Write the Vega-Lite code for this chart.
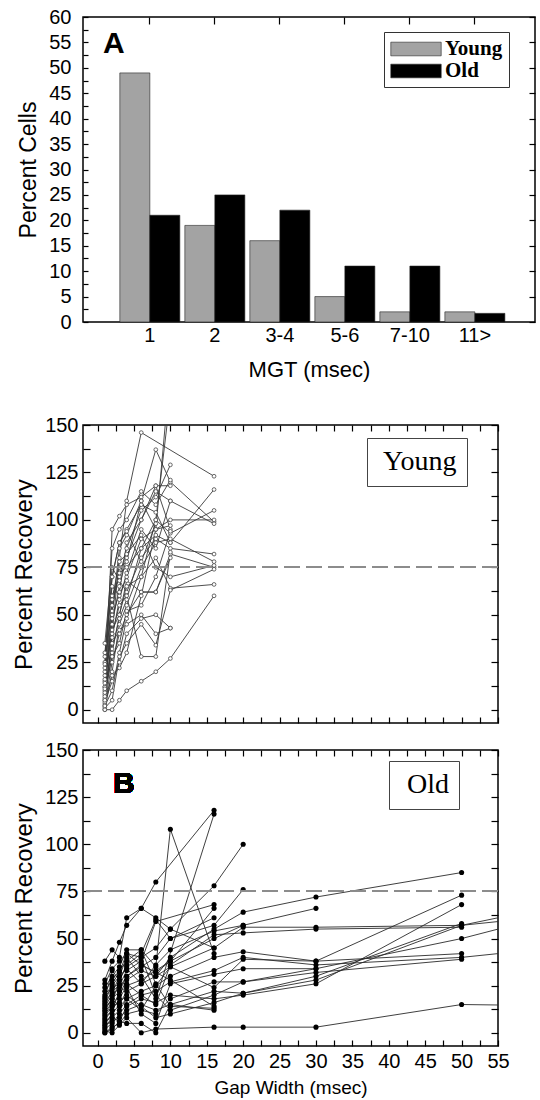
{
  "$schema": "https://vega.github.io/schema/vega-lite/v6.json",
  "padding": {"left": 11, "top": 6, "right": 0, "bottom": 0},
  "background": "white",
  "config": {
    "font": "Liberation Sans",
    "view": {"stroke": "black", "strokeWidth": 1.5},
    "axis": {"domain": false, "grid": false, "labelFont": "Liberation Sans", "titleFont": "Liberation Sans", "labelColor": "black", "titleColor": "black", "tickColor": "black", "tickWidth": 1.2, "titleFontWeight": "normal", "labelFlush": false, "labelOverlap": false}
  },
  "datasets": {
    "mgt": [
      {"mgt": "1", "grp": "Young", "pct": 49}, {"mgt": "1", "grp": "Old", "pct": 21},
      {"mgt": "2", "grp": "Young", "pct": 19}, {"mgt": "2", "grp": "Old", "pct": 25},
      {"mgt": "3-4", "grp": "Young", "pct": 16}, {"mgt": "3-4", "grp": "Old", "pct": 22},
      {"mgt": "5-6", "grp": "Young", "pct": 5}, {"mgt": "5-6", "grp": "Old", "pct": 11},
      {"mgt": "7-10", "grp": "Young", "pct": 2}, {"mgt": "7-10", "grp": "Old", "pct": 11},
      {"mgt": "11>", "grp": "Young", "pct": 2}, {"mgt": "11>", "grp": "Old", "pct": 1.7}
    ],
    "young": [
      {"c":"y1","g":1,"v":2},{"c":"y1","g":2,"v":40},{"c":"y1","g":3,"v":80},{"c":"y1","g":4,"v":110},{"c":"y1","g":6,"v":146},{"c":"y1","g":16,"v":123},
      {"c":"y2","g":1,"v":5},{"c":"y2","g":2,"v":95},{"c":"y2","g":3,"v":102},{"c":"y2","g":4,"v":108},{"c":"y2","g":6,"v":112},{"c":"y2","g":8,"v":118},{"c":"y2","g":10,"v":118},
      {"c":"y3","g":1,"v":8},{"c":"y3","g":2,"v":50},{"c":"y3","g":3,"v":85},{"c":"y3","g":4,"v":92},{"c":"y3","g":6,"v":110},{"c":"y3","g":8,"v":137},{"c":"y3","g":10,"v":120},{"c":"y3","g":16,"v":99},
      {"c":"y4","g":1,"v":12},{"c":"y4","g":2,"v":60},{"c":"y4","g":3,"v":70},{"c":"y4","g":4,"v":85},{"c":"y4","g":6,"v":105},{"c":"y4","g":8,"v":112},{"c":"y4","g":10,"v":129},
      {"c":"y5","g":1,"v":15},{"c":"y5","g":2,"v":45},{"c":"y5","g":3,"v":65},{"c":"y5","g":4,"v":80},{"c":"y5","g":6,"v":100},{"c":"y5","g":8,"v":115},{"c":"y5","g":10,"v":110},{"c":"y5","g":16,"v":98},
      {"c":"y6","g":1,"v":20},{"c":"y6","g":2,"v":70},{"c":"y6","g":3,"v":88},{"c":"y6","g":4,"v":95},{"c":"y6","g":6,"v":108},{"c":"y6","g":8,"v":104},{"c":"y6","g":10,"v":88},{"c":"y6","g":16,"v":116},
      {"c":"y7","g":1,"v":25},{"c":"y7","g":2,"v":55},{"c":"y7","g":3,"v":72},{"c":"y7","g":4,"v":75},{"c":"y7","g":6,"v":85},{"c":"y7","g":8,"v":100},{"c":"y7","g":10,"v":93},{"c":"y7","g":16,"v":105},
      {"c":"y8","g":1,"v":30},{"c":"y8","g":2,"v":65},{"c":"y8","g":3,"v":60},{"c":"y8","g":4,"v":70},{"c":"y8","g":6,"v":90},{"c":"y8","g":8,"v":95},{"c":"y8","g":10,"v":97},
      {"c":"y9","g":1,"v":35},{"c":"y9","g":2,"v":75},{"c":"y9","g":3,"v":68},{"c":"y9","g":4,"v":62},{"c":"y9","g":6,"v":80},{"c":"y9","g":8,"v":90},{"c":"y9","g":10,"v":85},{"c":"y9","g":16,"v":82},
      {"c":"y10","g":1,"v":0},{"c":"y10","g":2,"v":20},{"c":"y10","g":3,"v":45},{"c":"y10","g":4,"v":55},{"c":"y10","g":6,"v":75},{"c":"y10","g":8,"v":88},{"c":"y10","g":10,"v":90},{"c":"y10","g":16,"v":78},
      {"c":"y11","g":1,"v":3},{"c":"y11","g":2,"v":25},{"c":"y11","g":3,"v":40},{"c":"y11","g":4,"v":50},{"c":"y11","g":6,"v":62},{"c":"y11","g":8,"v":62},{"c":"y11","g":10,"v":82},{"c":"y11","g":16,"v":75},
      {"c":"y12","g":1,"v":6},{"c":"y12","g":2,"v":30},{"c":"y12","g":3,"v":50},{"c":"y12","g":4,"v":65},{"c":"y12","g":6,"v":70},{"c":"y12","g":8,"v":80},{"c":"y12","g":10,"v":64},{"c":"y12","g":16,"v":66},
      {"c":"y13","g":1,"v":10},{"c":"y13","g":2,"v":35},{"c":"y13","g":3,"v":42},{"c":"y13","g":4,"v":45},{"c":"y13","g":6,"v":50},{"c":"y13","g":8,"v":40},{"c":"y13","g":10,"v":43},
      {"c":"y14","g":1,"v":1},{"c":"y14","g":2,"v":5},{"c":"y14","g":3,"v":28},{"c":"y14","g":4,"v":35},{"c":"y14","g":6,"v":45},{"c":"y14","g":8,"v":34},{"c":"y14","g":10,"v":63},{"c":"y14","g":16,"v":74},
      {"c":"y15","g":1,"v":0},{"c":"y15","g":2,"v":0},{"c":"y15","g":3,"v":5},{"c":"y15","g":4,"v":10},{"c":"y15","g":6,"v":15},{"c":"y15","g":8,"v":20},{"c":"y15","g":10,"v":27},{"c":"y15","g":16,"v":60},
      {"c":"y16","g":1,"v":4},{"c":"y16","g":2,"v":15},{"c":"y16","g":3,"v":25},{"c":"y16","g":4,"v":40},{"c":"y16","g":6,"v":48},{"c":"y16","g":8,"v":50},{"c":"y16","g":10,"v":43},
      {"c":"y17","g":1,"v":18},{"c":"y17","g":2,"v":40},{"c":"y17","g":3,"v":55},{"c":"y17","g":4,"v":60},{"c":"y17","g":6,"v":28},{"c":"y17","g":8,"v":28},{"c":"y17","g":10,"v":83},
      {"c":"y18","g":1,"v":2},{"c":"y18","g":2,"v":10},{"c":"y18","g":3,"v":30},{"c":"y18","g":4,"v":48},{"c":"y18","g":6,"v":70},{"c":"y18","g":8,"v":100},{"c":"y18","g":10,"v":165},
      {"c":"y19","g":1,"v":7},{"c":"y19","g":2,"v":38},{"c":"y19","g":3,"v":58},{"c":"y19","g":4,"v":72},{"c":"y19","g":6,"v":95},{"c":"y19","g":8,"v":85},{"c":"y19","g":10,"v":110},
      {"c":"y20","g":1,"v":12},{"c":"y20","g":2,"v":48},{"c":"y20","g":3,"v":62},{"c":"y20","g":4,"v":88},{"c":"y20","g":6,"v":100},{"c":"y20","g":8,"v":118},{"c":"y20","g":10,"v":95},
      {"c":"y21","g":1,"v":22},{"c":"y21","g":2,"v":58},{"c":"y21","g":3,"v":78},{"c":"y21","g":4,"v":82},{"c":"y21","g":6,"v":92},{"c":"y21","g":8,"v":75},{"c":"y21","g":10,"v":70},{"c":"y21","g":16,"v":76},
      {"c":"y22","g":1,"v":28},{"c":"y22","g":2,"v":70},{"c":"y22","g":3,"v":88},{"c":"y22","g":4,"v":94},{"c":"y22","g":6,"v":78},{"c":"y22","g":8,"v":98},
      {"c":"y23","g":1,"v":16},{"c":"y23","g":2,"v":42},{"c":"y23","g":3,"v":50},{"c":"y23","g":4,"v":68},{"c":"y23","g":6,"v":62},{"c":"y23","g":8,"v":62},{"c":"y23","g":10,"v":80},
      {"c":"y24","g":1,"v":9},{"c":"y24","g":2,"v":28},{"c":"y24","g":3,"v":35},{"c":"y24","g":4,"v":52},{"c":"y24","g":6,"v":55},{"c":"y24","g":8,"v":70},{"c":"y24","g":10,"v":94},
      {"c":"y25","g":1,"v":5},{"c":"y25","g":2,"v":18},{"c":"y25","g":3,"v":22},{"c":"y25","g":4,"v":30},{"c":"y25","g":6,"v":60},{"c":"y25","g":8,"v":95},{"c":"y25","g":10,"v":180},
      {"c":"y26","g":1,"v":11},{"c":"y26","g":2,"v":32},{"c":"y26","g":3,"v":48},{"c":"y26","g":4,"v":58},{"c":"y26","g":6,"v":85},{"c":"y26","g":8,"v":92},{"c":"y26","g":10,"v":88},
      {"c":"y27","g":1,"v":24},{"c":"y27","g":2,"v":85},{"c":"y27","g":3,"v":95},{"c":"y27","g":4,"v":100},{"c":"y27","g":6,"v":115},{"c":"y27","g":8,"v":108},{"c":"y27","g":10,"v":121},
      {"c":"y28","g":1,"v":14},{"c":"y28","g":2,"v":52},{"c":"y28","g":3,"v":75},{"c":"y28","g":4,"v":78},{"c":"y28","g":6,"v":110},{"c":"y28","g":8,"v":95},{"c":"y28","g":10,"v":100},{"c":"y28","g":16,"v":100}
    ],
    "old": [
      {"c":"o1","g":1,"v":38},{"c":"o1","g":2,"v":44},{"c":"o1","g":3,"v":40},{"c":"o1","g":4,"v":61},{"c":"o1","g":6,"v":66},{"c":"o1","g":8,"v":80},{"c":"o1","g":16,"v":118},
      {"c":"o2","g":1,"v":28},{"c":"o2","g":2,"v":38},{"c":"o2","g":3,"v":48},{"c":"o2","g":4,"v":57},{"c":"o2","g":6,"v":66},{"c":"o2","g":8,"v":61},{"c":"o2","g":10,"v":55},{"c":"o2","g":16,"v":45},
      {"c":"o3","g":1,"v":24},{"c":"o3","g":2,"v":30},{"c":"o3","g":3,"v":35},{"c":"o3","g":4,"v":44},{"c":"o3","g":6,"v":44},{"c":"o3","g":8,"v":35},{"c":"o3","g":10,"v":108},{"c":"o3","g":16,"v":42},
      {"c":"o4","g":1,"v":20},{"c":"o4","g":2,"v":25},{"c":"o4","g":3,"v":30},{"c":"o4","g":4,"v":40},{"c":"o4","g":6,"v":30},{"c":"o4","g":8,"v":18},{"c":"o4","g":16,"v":116},
      {"c":"o5","g":1,"v":18},{"c":"o5","g":2,"v":33},{"c":"o5","g":3,"v":28},{"c":"o5","g":4,"v":35},{"c":"o5","g":6,"v":40},{"c":"o5","g":8,"v":45},{"c":"o5","g":10,"v":55},{"c":"o5","g":16,"v":78},{"c":"o5","g":20,"v":100},
      {"c":"o6","g":1,"v":15},{"c":"o6","g":2,"v":22},{"c":"o6","g":3,"v":25},{"c":"o6","g":4,"v":33},{"c":"o6","g":6,"v":38},{"c":"o6","g":8,"v":59},{"c":"o6","g":16,"v":68},
      {"c":"o7","g":1,"v":12},{"c":"o7","g":2,"v":18},{"c":"o7","g":3,"v":22},{"c":"o7","g":4,"v":30},{"c":"o7","g":6,"v":35},{"c":"o7","g":8,"v":40},{"c":"o7","g":10,"v":50},{"c":"o7","g":16,"v":57},{"c":"o7","g":20,"v":76},
      {"c":"o8","g":1,"v":10},{"c":"o8","g":2,"v":15},{"c":"o8","g":3,"v":20},{"c":"o8","g":4,"v":28},{"c":"o8","g":6,"v":33},{"c":"o8","g":8,"v":30},{"c":"o8","g":10,"v":40},{"c":"o8","g":16,"v":55},{"c":"o8","g":20,"v":64},{"c":"o8","g":30,"v":72},{"c":"o8","g":50,"v":85},
      {"c":"o9","g":1,"v":8},{"c":"o9","g":2,"v":12},{"c":"o9","g":3,"v":18},{"c":"o9","g":4,"v":25},{"c":"o9","g":6,"v":28},{"c":"o9","g":8,"v":33},{"c":"o9","g":10,"v":38},{"c":"o9","g":16,"v":50},{"c":"o9","g":20,"v":57},{"c":"o9","g":30,"v":66},
      {"c":"o10","g":1,"v":5},{"c":"o10","g":2,"v":10},{"c":"o10","g":3,"v":15},{"c":"o10","g":4,"v":22},{"c":"o10","g":6,"v":26},{"c":"o10","g":8,"v":30},{"c":"o10","g":10,"v":35},{"c":"o10","g":16,"v":45},{"c":"o10","g":20,"v":56},{"c":"o10","g":30,"v":56},{"c":"o10","g":50,"v":57},{"c":"o10","g":70,"v":73},
      {"c":"o11","g":1,"v":3},{"c":"o11","g":2,"v":8},{"c":"o11","g":3,"v":12},{"c":"o11","g":4,"v":18},{"c":"o11","g":6,"v":22},{"c":"o11","g":8,"v":25},{"c":"o11","g":10,"v":30},{"c":"o11","g":16,"v":40},{"c":"o11","g":20,"v":43},{"c":"o11","g":30,"v":38},{"c":"o11","g":50,"v":42},
      {"c":"o12","g":1,"v":2},{"c":"o12","g":2,"v":5},{"c":"o12","g":3,"v":10},{"c":"o12","g":4,"v":15},{"c":"o12","g":6,"v":20},{"c":"o12","g":8,"v":22},{"c":"o12","g":10,"v":27},{"c":"o12","g":16,"v":33},{"c":"o12","g":20,"v":40},{"c":"o12","g":30,"v":36},{"c":"o12","g":50,"v":40},{"c":"o12","g":70,"v":48},
      {"c":"o13","g":1,"v":0},{"c":"o13","g":2,"v":3},{"c":"o13","g":3,"v":5},{"c":"o13","g":4,"v":10},{"c":"o13","g":6,"v":12},{"c":"o13","g":8,"v":10},{"c":"o13","g":10,"v":18},{"c":"o13","g":16,"v":27},{"c":"o13","g":20,"v":27},{"c":"o13","g":30,"v":34},{"c":"o13","g":50,"v":50},{"c":"o13","g":70,"v":70},
      {"c":"o14","g":1,"v":1},{"c":"o14","g":2,"v":0},{"c":"o14","g":3,"v":4},{"c":"o14","g":4,"v":8},{"c":"o14","g":6,"v":0},{"c":"o14","g":8,"v":2},{"c":"o14","g":16,"v":3},{"c":"o14","g":20,"v":3},{"c":"o14","g":30,"v":3},{"c":"o14","g":50,"v":15},{"c":"o14","g":70,"v":14},
      {"c":"o15","g":1,"v":4},{"c":"o15","g":2,"v":6},{"c":"o15","g":3,"v":8},{"c":"o15","g":4,"v":12},{"c":"o15","g":6,"v":15},{"c":"o15","g":8,"v":12},{"c":"o15","g":10,"v":15},{"c":"o15","g":16,"v":22},{"c":"o15","g":20,"v":21},{"c":"o15","g":30,"v":30},{"c":"o15","g":50,"v":58},
      {"c":"o16","g":1,"v":6},{"c":"o16","g":2,"v":8},{"c":"o16","g":3,"v":6},{"c":"o16","g":4,"v":14},{"c":"o16","g":6,"v":18},{"c":"o16","g":8,"v":16},{"c":"o16","g":10,"v":20},{"c":"o16","g":16,"v":18},{"c":"o16","g":20,"v":20},{"c":"o16","g":30,"v":26},{"c":"o16","g":50,"v":68},
      {"c":"o17","g":1,"v":14},{"c":"o17","g":2,"v":20},{"c":"o17","g":3,"v":24},{"c":"o17","g":4,"v":30},{"c":"o17","g":6,"v":36},{"c":"o17","g":8,"v":32},{"c":"o17","g":10,"v":28},{"c":"o17","g":16,"v":14},
      {"c":"o18","g":1,"v":22},{"c":"o18","g":2,"v":28},{"c":"o18","g":3,"v":33},{"c":"o18","g":4,"v":38},{"c":"o18","g":6,"v":44},{"c":"o18","g":8,"v":26},{"c":"o18","g":10,"v":14},{"c":"o18","g":16,"v":13},
      {"c":"o19","g":1,"v":16},{"c":"o19","g":2,"v":26},{"c":"o19","g":3,"v":32},{"c":"o19","g":4,"v":42},{"c":"o19","g":6,"v":40},{"c":"o19","g":8,"v":20},{"c":"o19","g":10,"v":12},{"c":"o19","g":16,"v":20},{"c":"o19","g":20,"v":27},{"c":"o19","g":30,"v":32},{"c":"o19","g":50,"v":39},
      {"c":"o20","g":1,"v":9},{"c":"o20","g":2,"v":14},{"c":"o20","g":3,"v":16},{"c":"o20","g":4,"v":20},{"c":"o20","g":6,"v":14},{"c":"o20","g":8,"v":8},{"c":"o20","g":10,"v":10},{"c":"o20","g":16,"v":16},{"c":"o20","g":20,"v":21},{"c":"o20","g":30,"v":28},{"c":"o20","g":50,"v":57},{"c":"o20","g":70,"v":65},
      {"c":"o21","g":1,"v":0},{"c":"o21","g":2,"v":2},{"c":"o21","g":3,"v":6},{"c":"o21","g":4,"v":5},{"c":"o21","g":6,"v":5},{"c":"o21","g":8,"v":0},{"c":"o21","g":10,"v":15},{"c":"o21","g":16,"v":12},
      {"c":"o22","g":1,"v":11},{"c":"o22","g":2,"v":16},{"c":"o22","g":3,"v":28},{"c":"o22","g":4,"v":36},{"c":"o22","g":6,"v":42},{"c":"o22","g":8,"v":60},{"c":"o22","g":10,"v":50},{"c":"o22","g":16,"v":61},
      {"c":"o23","g":1,"v":26},{"c":"o23","g":2,"v":34},{"c":"o23","g":3,"v":38},{"c":"o23","g":4,"v":42},{"c":"o23","g":6,"v":36},{"c":"o23","g":8,"v":32},{"c":"o23","g":10,"v":38},{"c":"o23","g":16,"v":66},
      {"c":"o24","g":1,"v":19},{"c":"o24","g":2,"v":24},{"c":"o24","g":3,"v":26},{"c":"o24","g":4,"v":26},{"c":"o24","g":6,"v":20},{"c":"o24","g":8,"v":15},{"c":"o24","g":10,"v":36},{"c":"o24","g":16,"v":52},{"c":"o24","g":20,"v":53},{"c":"o24","g":30,"v":55},{"c":"o24","g":50,"v":56},
      {"c":"o25","g":1,"v":7},{"c":"o25","g":2,"v":12},{"c":"o25","g":3,"v":22},{"c":"o25","g":4,"v":24},{"c":"o25","g":6,"v":10},{"c":"o25","g":8,"v":5},{"c":"o25","g":10,"v":26},{"c":"o25","g":16,"v":31},{"c":"o25","g":20,"v":34},{"c":"o25","g":30,"v":34},
      {"c":"o26","g":1,"v":13},{"c":"o26","g":2,"v":18},{"c":"o26","g":3,"v":14},{"c":"o26","g":4,"v":18},{"c":"o26","g":6,"v":12},{"c":"o26","g":8,"v":25},{"c":"o26","g":10,"v":35},{"c":"o26","g":16,"v":24},{"c":"o26","g":20,"v":39},{"c":"o26","g":30,"v":38},{"c":"o26","g":50,"v":73},
      {"c":"o27","g":1,"v":17},{"c":"o27","g":2,"v":21},{"c":"o27","g":3,"v":30},{"c":"o27","g":4,"v":34},{"c":"o27","g":6,"v":26},{"c":"o27","g":8,"v":36},{"c":"o27","g":10,"v":44},{"c":"o27","g":16,"v":54},{"c":"o27","g":20,"v":57}
    ]
  },
  "spacing": 33,
  "resolve": {"scale": {"color": "independent"}, "legend": {"color": "independent"}},
  "vconcat": [
    {
      "width": 452,
      "height": 305,
      "data": {"name": "mgt"},
      "title": {"text": "A", "anchor": "start", "frame": "group", "font": "Liberation Sans", "fontSize": 30, "fontWeight": "bold", "color": "black", "dx": 20, "dy": 56},
      "layer": [
        {
          "mark": {"type": "bar", "stroke": "#222222", "strokeWidth": 0.6},
          "encoding": {
            "x": {"field": "mgt", "type": "nominal", "sort": ["1", "2", "3-4", "5-6", "7-10", "11>"],
                  "scale": {"paddingInner": 0.077, "paddingOuter": 0.515, "align": 0.55},
                  "axis": {"orient": "bottom", "title": "MGT (msec)", "labelAngle": 0, "ticks": false, "labelFontSize": 20, "labelPadding": 3, "titleFontSize": 22, "titlePadding": 14}},
            "xOffset": {"field": "grp", "type": "nominal", "sort": ["Young", "Old"]},
            "y": {"field": "pct", "type": "quantitative", "scale": {"domain": [0, 60], "nice": false},
                  "axis": {"orient": "left", "title": "Percent Cells", "values": [0,2.5,5,7.5,10,12.5,15,17.5,20,22.5,25,27.5,30,32.5,35,37.5,40,42.5,45,47.5,50,52.5,55,57.5,60],
                           "labelExpr": "datum.value % 5 === 0 ? datum.label : ''", "tickSize": -5, "labelFontSize": 20, "labelPadding": 17, "titleFontSize": 23, "titlePadding": 8}},
            "color": {"field": "grp", "type": "nominal", "sort": ["Young", "Old"],
                      "scale": {"domain": ["Young", "Old"], "range": ["#a3a3a3", "#000000"]},
                      "legend": {"title": null, "orient": "none", "legendX": 301, "legendY": 15, "symbolType": "M-2.4,-0.65H2.4V0.65H-2.4Z", "symbolSize": 441, "symbolOffset": 15, "symbolStrokeColor": "#222222", "symbolStrokeWidth": 0.6,
                                 "labelFont": "Liberation Serif", "labelFontWeight": "bold", "labelFontSize": 21, "labelColor": "black", "labelOffset": 18,
                                 "strokeColor": "#333333", "fillColor": "white", "padding": 6, "rowPadding": 1}}
          }
        },
        {
          "mark": {"type": "bar", "opacity": 0},
          "encoding": {
            "x": {"field": "mgt", "type": "nominal", "sort": ["1", "2", "3-4", "5-6", "7-10", "11>"],
                  "axis": {"orient": "top", "title": null, "labels": false, "tickSize": -7}},
            "xOffset": {"field": "grp", "type": "nominal", "sort": ["Young", "Old"]},
            "y": {"field": "pct", "type": "quantitative",
                  "axis": {"orient": "right", "title": null, "labels": false, "values": [0,5,10,15,20,25,30,35,40,45,50,55,60], "tickSize": -6}}
          }
        }
      ],
      "resolve": {"axis": {"x": "independent", "y": "independent"}}
    },
    {
      "spacing": 14,
      "resolve": {"scale": {"color": "independent"}, "legend": {"color": "independent"}},
      "vconcat": [
        {
          "width": 415,
          "height": 298,
          "data": {"name": "young"},
          "layer": [
            {
              "mark": {"type": "line", "clip": true, "color": "#3a3a3a", "strokeWidth": 0.9},
              "encoding": {
                "x": {"field": "g", "type": "quantitative", "scale": {"domain": [-2, 55], "nice": false, "zero": false},
                      "axis": {"orient": "bottom", "title": null, "labels": false, "tickSize": -6, "values": [0,2.5,5,7.5,10,12.5,15,17.5,20,22.5,25,27.5,30,32.5,35,37.5,40,42.5,45,47.5,50,52.5,55]}},
                "y": {"field": "v", "type": "quantitative", "scale": {"domain": [-7, 150], "nice": false, "zero": false},
                      "axis": {"orient": "left", "title": "Percent Recovery", "values": [0,12.5,25,37.5,50,62.5,75,87.5,100,112.5,125,137.5,150],
                               "labelExpr": "datum.value % 25 === 0 ? datum.label : ''", "tickSize": -7, "labelFontSize": 20, "labelPadding": 12, "titleFontSize": 24, "titlePadding": 8}},
                "detail": {"field": "c", "type": "nominal"}
              }
            },
            {
              "mark": {"type": "point", "clip": true, "shape": "circle", "filled": true, "fill": "white", "stroke": "#444444", "strokeWidth": 0.8, "size": 14, "opacity": 1},
              "encoding": {
                "x": {"field": "g", "type": "quantitative", "axis": {"orient": "top", "title": null, "labels": false, "tickSize": -6, "values": [0,2.5,5,7.5,10,12.5,15,17.5,20,22.5,25,27.5,30,32.5,35,37.5,40,42.5,45,47.5,50,52.5,55]}},
                "y": {"field": "v", "type": "quantitative", "axis": {"orient": "right", "title": null, "labels": false, "tickSize": -7, "values": [0,12.5,25,37.5,50,62.5,75,87.5,100,112.5,125,137.5,150]}}
              }
            },
            {
              "mark": {"type": "rule", "strokeDash": [16, 6], "strokeWidth": 1.3},
              "encoding": {
                "y": {"datum": 75, "type": "quantitative", "axis": null},
                "color": {"datum": "Young", "scale": {"range": ["#8c8c8c"]},
                          "legend": {"title": null, "orient": "none", "legendX": 284, "legendY": 13, "symbolType": "circle", "symbolOpacity": 0, "symbolSize": 64, "symbolStrokeWidth": 0, "labelOffset": -22,
                                     "labelFont": "Liberation Serif", "labelFontSize": 28, "labelColor": "black", "strokeColor": "#444444", "fillColor": "white", "padding": 10}}
              }
            }
          ],
          "resolve": {"axis": {"x": "independent", "y": "independent"}}
        },
        {
          "width": 415,
          "height": 296,
          "data": {"name": "old"},
          "layer": [
            {
              "mark": {"type": "line", "clip": true, "color": "#2a2a2a", "strokeWidth": 0.9},
              "encoding": {
                "x": {"field": "g", "type": "quantitative", "scale": {"domain": [-2, 55], "nice": false, "zero": false},
                      "axis": {"orient": "bottom", "title": "Gap Width (msec)", "tickSize": -6, "values": [0,2.5,5,7.5,10,12.5,15,17.5,20,22.5,25,27.5,30,32.5,35,37.5,40,42.5,45,47.5,50,52.5,55],
                               "labelExpr": "datum.value % 5 === 0 ? datum.label : ''", "labelFontSize": 20, "labelPadding": 11, "titleFontSize": 19, "titlePadding": 7}},
                "y": {"field": "v", "type": "quantitative", "scale": {"domain": [-7, 150], "nice": false, "zero": false},
                      "axis": {"orient": "left", "title": "Percent Recovery", "values": [0,12.5,25,37.5,50,62.5,75,87.5,100,112.5,125,137.5,150],
                               "labelExpr": "datum.value % 25 === 0 ? datum.label : ''", "tickSize": -7, "labelFontSize": 20, "labelPadding": 12, "titleFontSize": 24, "titlePadding": 8}},
                "detail": {"field": "c", "type": "nominal"}
              }
            },
            {
              "mark": {"type": "point", "clip": true, "shape": "circle", "filled": true, "color": "black", "size": 26, "opacity": 1},
              "encoding": {
                "x": {"field": "g", "type": "quantitative", "axis": {"orient": "top", "title": null, "labels": false, "tickSize": -6, "values": [0,2.5,5,7.5,10,12.5,15,17.5,20,22.5,25,27.5,30,32.5,35,37.5,40,42.5,45,47.5,50,52.5,55]}},
                "y": {"field": "v", "type": "quantitative", "axis": {"orient": "right", "title": null, "labels": false, "tickSize": -7, "values": [0,12.5,25,37.5,50,62.5,75,87.5,100,112.5,125,137.5,150]}}
              }
            },
            {
              "mark": {"type": "rule", "strokeDash": [16, 6], "strokeWidth": 1.3},
              "encoding": {
                "y": {"datum": 75, "type": "quantitative", "axis": null},
                "color": {"datum": "Old", "scale": {"range": ["#8c8c8c"]},
                          "legend": {"title": null, "orient": "none", "legendX": 306, "legendY": 11, "symbolType": "circle", "symbolOpacity": 0, "symbolSize": 64, "symbolStrokeWidth": 0, "labelOffset": -20,
                                     "labelFont": "Liberation Serif", "labelFontSize": 28, "labelColor": "black", "strokeColor": "#444444", "fillColor": "white", "padding": 10}}
              }
            },
            {
              "mark": {"type": "text", "font": "Liberation Sans", "fontSize": 30, "fontWeight": "bold", "color": "black"},
              "encoding": {
                "x": {"datum": 3.6, "type": "quantitative", "axis": null},
                "y": {"datum": 132, "type": "quantitative", "axis": null},
                "text": {"value": "B"}
              }
            }
          ],
          "resolve": {"axis": {"x": "independent", "y": "independent"}}
        }
      ]
    }
  ]
}
